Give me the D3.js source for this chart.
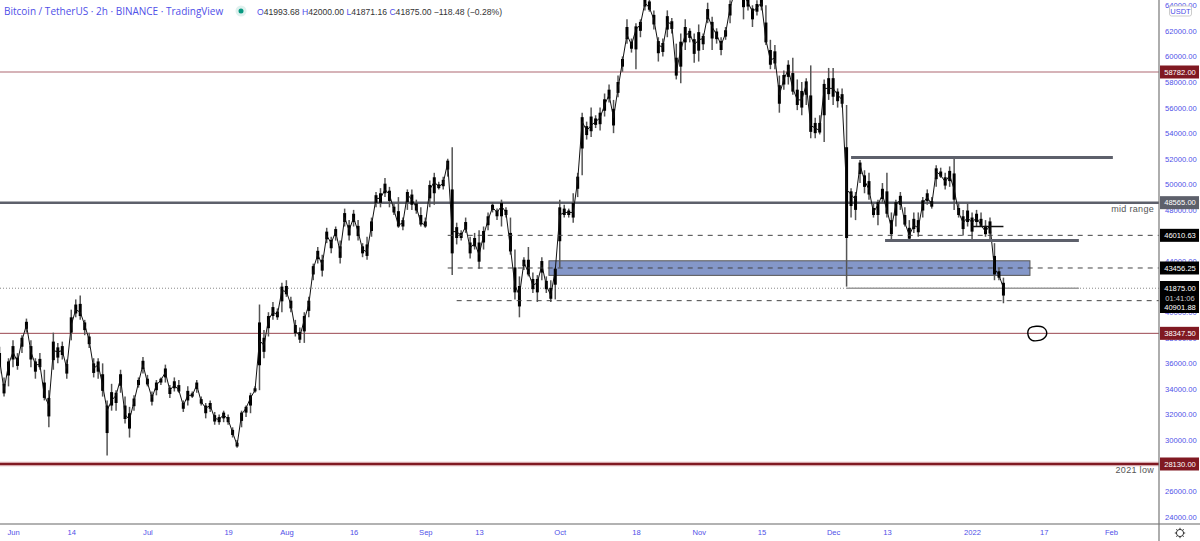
<!DOCTYPE html>
<html>
<head>
  <title>Bitcoin / TetherUS 2h</title>
  <script src="https://d3js.org/d3.v7.min.js"></script>
  <style>
    html, body { margin: 0; padding: 0; background: #fff; overflow: hidden; }
    svg { display: block; font-family: "Liberation Sans", Arial, sans-serif; }
    .axis text { fill: #4f4fe8; font-size: 7.6px; font-family: "Liberation Sans", sans-serif; }
    .tag text { fill: #fff; font-size: 7.6px; font-family: "Liberation Sans", sans-serif; text-anchor: middle; }
  </style>
</head>
<body>
  <svg id="chart" width="1200" height="541"></svg>
  <script>
    // daily high / low / close in thousands of USDT, first day is 29 May 2021
    const highs = [
      37.3,34.9,36.4,
      37.8,36.8,38.2,39.5,37.8,36.4,36.8,35.5,33.9,38.4,37.6,37.7,36.3,40.2,41.0,41.3,39.4,38.4,36.4,36.4,36.0,33.1,34.4,33.9,35.5,33.4,32.6,33.5,34.9,36.5,
      35.1,33.8,34.7,34.9,35.9,34.3,34.9,34.7,33.1,34.2,33.8,34.7,33.4,32.9,33.1,32.2,32.0,32.3,32.0,31.0,30.0,32.3,32.7,33.7,34.2,40.6,38.6,40.0,40.8,40.3,42.3,
      42.5,41.2,39.4,38.8,40.0,41.2,43.8,45.1,44.5,46.6,45.9,46.7,45.6,48.1,47.2,48.0,47.2,45.4,45.9,47.4,49.4,49.7,50.5,49.8,48.5,49.0,47.4,49.6,49.6,48.8,48.2,
      47.4,50.3,50.9,50.2,50.6,52.0,52.9,47.0,46.4,47.4,45.9,46.2,46.4,46.7,47.8,48.6,48.1,48.8,48.2,47.4,44.9,42.8,44.3,45.1,43.1,42.9,44.3,42.8,42.5,43.5,
      48.8,48.4,48.1,49.3,50.9,55.6,54.9,56.0,55.4,56.0,57.1,57.8,56.6,58.5,60.0,62.9,61.4,62.6,62.9,64.8,64.8,63.6,61.5,61.4,63.6,63.0,61.0,61.8,62.9,62.2,61.8,
      62.5,61.8,64.2,63.1,62.2,61.5,62.3,64.4,65.6,66.0,65.6,64.8,64.0,64.4,64.8,64.0,61.3,60.9,58.5,58.9,59.7,59.9,58.2,58.0,58.3,59.3,55.2,55.4,58.2,59.1,
      59.1,57.5,57.5,56.2,49.7,49.4,51.9,51.1,50.9,48.5,48.8,50.1,50.9,47.8,48.8,49.4,48.2,47.2,47.8,47.8,49.0,49.6,49.0,51.5,51.3,50.9,51.4,52.1,48.5,48.0,48.5,
      47.8,48.0,47.8,47.2,47.4,45.4,43.5,42.7
    ];
    const lows = [
      35.2,33.4,34.2,
      35.7,35.5,36.8,38.4,35.7,34.8,35.5,33.1,31.0,35.5,36.0,36.3,34.8,37.8,39.6,39.4,38.2,37.2,34.9,34.8,33.4,28.8,32.3,32.3,33.7,31.3,30.2,32.3,34.1,35.2,
      34.2,32.7,33.5,34.3,34.5,33.3,33.8,33.7,32.2,32.7,33.3,33.7,32.7,31.7,32.2,31.2,31.2,31.4,31.2,30.2,29.4,31.0,31.8,32.1,33.7,33.9,36.4,38.1,39.4,39.4,40.0,
      41.2,40.0,38.1,37.6,37.6,39.6,42.5,43.8,42.8,45.4,44.6,45.6,43.8,46.7,45.6,46.7,45.6,44.3,44.1,45.9,48.2,48.2,49.0,48.2,47.6,46.6,46.4,48.0,48.0,47.7,46.7,
      46.6,48.2,48.4,49.6,49.6,50.6,42.9,45.3,45.6,46.2,44.2,44.9,43.4,44.9,46.4,47.8,47.2,46.7,47.4,44.5,41.0,39.6,43.3,42.8,41.5,40.8,42.5,41.5,40.8,41.0,
      43.5,47.4,47.4,47.0,49.0,50.7,53.5,53.7,54.4,54.2,55.3,56.4,54.0,56.8,58.8,61.0,60.3,59.0,61.5,63.6,63.5,62.1,59.6,60.0,61.5,61.8,58.2,57.9,60.5,61.1,59.5,
      59.6,60.5,62.6,60.5,61.0,60.1,61.3,62.6,64.6,64.8,62.9,63.6,62.3,63.2,63.6,60.9,59.0,59.0,55.6,57.4,57.8,57.0,55.8,55.4,56.2,53.6,53.6,53.9,53.3,56.6,
      56.2,56.0,56.0,42.0,47.4,47.2,50.1,49.3,48.8,47.4,46.8,48.5,47.4,45.6,46.7,48.0,46.7,45.5,46.2,45.9,47.4,48.4,48.1,49.8,50.5,49.6,49.8,48.0,47.4,46.0,46.7,
      45.6,46.7,46.7,45.9,45.5,42.5,42.5,40.7
    ];
    const closes = [
      36.3,33.9,35.9,
      36.9,36.1,37.8,39.0,36.9,35.9,35.9,33.5,32.7,37.0,36.9,37.0,35.6,39.0,40.2,40.0,39.0,37.8,35.6,35.9,34.3,32.3,33.1,33.5,34.8,32.0,31.6,33.0,34.5,35.9,
      34.5,33.3,34.3,34.7,35.3,33.9,34.3,33.9,32.7,33.5,33.5,34.3,33.0,32.5,32.7,31.7,31.6,32.0,31.6,30.6,29.6,32.0,32.5,33.3,33.9,37.8,37.4,39.4,40.0,39.8,41.7,
      41.6,40.6,38.6,38.1,39.4,40.6,43.4,44.5,43.7,46.0,45.4,46.3,44.7,47.4,46.4,47.4,46.3,44.9,44.7,46.8,48.9,48.9,49.6,49.2,48.0,46.8,47.0,49.2,48.8,48.2,47.0,
      46.8,49.6,50.2,49.8,50.1,51.7,46.3,46.3,46.0,46.7,45.0,45.4,44.5,46.0,47.2,48.2,47.8,48.3,47.8,45.0,42.1,41.3,43.9,43.1,42.1,42.3,43.7,42.1,41.3,43.3,
      47.6,47.8,47.8,47.8,50.3,54.9,54.2,54.6,54.9,55.2,56.2,57.0,55.2,57.5,59.6,61.7,60.9,62.1,62.5,64.2,63.8,62.9,60.9,60.7,62.7,62.5,58.8,60.5,61.7,61.8,60.9,
      61.3,61.4,63.2,62.3,61.7,60.9,61.8,63.8,65.0,65.3,64.8,64.2,63.5,63.8,64.2,61.3,59.7,59.9,57.0,58.2,59.0,57.5,56.6,56.6,57.8,54.6,54.4,54.2,57.5,57.5,
      57.5,57.0,56.6,49.6,49.2,48.8,51.5,50.3,49.6,47.8,48.4,49.2,48.0,46.6,48.4,48.8,47.0,46.0,46.8,46.6,48.5,49.0,48.4,51.0,50.7,50.2,50.7,49.6,47.8,47.0,47.4,
      47.0,47.4,46.8,46.3,46.8,43.4,42.9,41.9
    ];

    // right axis and time axis
    const priceTicks = d3.range(24000, 66000, 2000);
    const timeTickDates = [[2021,5,1],[2021,5,14],[2021,6,1],[2021,6,19],[2021,7,1],[2021,7,16],[2021,8,1],[2021,8,13],[2021,9,1],[2021,9,18],[2021,10,1],[2021,10,15],[2021,11,1],[2021,11,13],[2022,0,1],[2022,0,17],[2022,1,1]];
    const timeTickLabels = ["Jun","14","Jul","19","Aug","16","Sep","13","Oct","18","Nov","15","Dec","13","2022","17","Feb"];

    // horizontal levels and hand drawn bits
    const redThin = 58782, midRange = 48565, redMid = 38347.5, redLow = 28130;
    const dashLevels = [46010.63, 43456.25, 40901.88];
    const dashStarts = [[2021,8,6],[2021,8,6],[2021,8,8]];
    const lastPrice = 41875;
    const zoneTop = 44020, zoneBottom = 42880;
    const zoneStart = [2021,8,28,14], zoneEnd = [2022,0,13,22];
    const rangeHigh = 52100, rangeHighStart = [2021,11,5], rangeHighEnd = [2022,1,1,10];
    const rangeLow = 45600, rangeLowStart = [2021,11,12,14], rangeLowEnd = [2022,0,24,20];
    const lastSegStart = [2021,11,4], lastSegEnd = [2022,0,24,20];
    const shortLevel = 46700, shortStart = [2022,0,1], shortEnd = [2022,0,8];
    const scribbleDays = [226.9, 229.8, 230.7, 229.8, 227.4, 226.5];
    const scribblePrices = [38760, 38840, 38370, 37900, 37800, 38200];

    const utc = a => new Date(Date.UTC(a[0], a[1], a[2], a[3] || 0));
    const width = 1200, height = 541, plotRight = 1159, plotBottom = 524;

    const x = d3.scaleUtc().domain([utc([2021,5,1]), utc([2022,1,1])]).range([13, 1111]);
    const y = d3.scaleLinear().domain([redThin, redLow]).range([72, 464]);
    const days = d3.utcDay.range(utc([2021,4,29]), utc([2022,0,9]));

    const svg = d3.select("#chart");
    svg.append("defs").append("clipPath").attr("id", "plot")
      .append("rect").attr("width", plotRight).attr("height", plotBottom);
    const plot = svg.append("g").attr("clip-path", "url(#plot)");

    function hline(from, to, price, color, w, dash) {
      plot.append("line")
        .attr("x1", from).attr("x2", to)
        .attr("y1", y(price)).attr("y2", y(price))
        .attr("stroke", color).attr("stroke-width", w)
        .attr("stroke-dasharray", dash || null);
    }

    // zone goes under the candles
    plot.append("rect")
      .attr("x", x(utc(zoneStart))).attr("width", x(utc(zoneEnd)) - x(utc(zoneStart)))
      .attr("y", y(zoneTop)).attr("height", y(zoneBottom) - y(zoneTop))
      .attr("fill", "#8497c9").attr("stroke", "#555").attr("stroke-width", 1);

    hline(0, plotRight, redThin, "#c99aa0", 1.5);
    hline(0, plotRight, midRange, "#5d606b", 2.5);
    hline(0, plotRight, redMid, "#9a4650", 1);
    hline(0, plotRight, redLow, "#f0d6d8", 5);
    hline(0, plotRight, redLow, "#801922", 2.5);
    hline(0, plotRight, lastPrice, "#888", 1, "1,2");
    hline(x(utc(lastSegStart)), x(utc(lastSegEnd)), lastPrice, "#999", 1.5);

    // wicks
    plot.selectAll(".wick").data(days).enter().append("line")
      .attr("class", "wick")
      .attr("x1", d => x(d)).attr("x2", d => x(d))
      .attr("y1", (d, i) => y(highs[i] * 1000))
      .attr("y2", (d, i) => y(lows[i] * 1000))
      .attr("stroke", "#555").attr("stroke-width", 1.5);

    // thick core of each day, the middle part of its range
    plot.selectAll(".body").data(days).enter().append("line")
      .attr("class", "body")
      .attr("x1", d => x(d)).attr("x2", d => x(d))
      .attr("y1", (d, i) => y((closes[i] + (highs[i] - closes[i]) * 0.5) * 1000))
      .attr("y2", (d, i) => y((closes[i] - (closes[i] - lows[i]) * 0.5) * 1000))
      .attr("stroke", "#000").attr("stroke-width", 3);

    plot.append("path")
      .attr("d", d3.line().x(d => x(d)).y((d, i) => y(closes[i] * 1000))(days))
      .attr("fill", "none").attr("stroke", "#111").attr("stroke-width", 1);

    // dashed levels on top of everything
    dashLevels.forEach((level, i) => {
      hline(x(utc(dashStarts[i])), plotRight, level, "#444", 1, "5,5");
    });
    hline(x(utc(rangeHighStart)), x(utc(rangeHighEnd)), rangeHigh, "#5d606b", 3);
    hline(x(utc(rangeLowStart)), x(utc(rangeLowEnd)), rangeLow, "#5d606b", 3);
    hline(x(utc(shortStart)), x(utc(shortEnd)), shortLevel, "#111", 1.5);

    // scribble round the 38k level
    plot.append("path")
      .attr("d", d3.line()
        .x(d => x(d3.utcHour.offset(utc([2021,5,1]), d.day * 24)))
        .y(d => y(d.price))
        .curve(d3.curveCatmullRomClosed)(scribbleDays.map((day, i) => ({ day: day, price: scribblePrices[i] }))))
      .attr("fill", "none").attr("stroke", "#000").attr("stroke-width", 1.4);

    plot.append("text").attr("x", 1154).attr("y", 212).attr("text-anchor", "end")
      .attr("fill", "#555").attr("font-size", 9).attr("letter-spacing", 0.3).text("mid range");
    plot.append("text").attr("x", 1154).attr("y", 473).attr("text-anchor", "end")
      .attr("fill", "#555").attr("font-size", 9).attr("letter-spacing", 0.3).text("2021 low");

    // axes
    svg.append("g").attr("class", "axis")
      .attr("transform", `translate(${plotRight},0)`)
      .call(d3.axisRight(y).tickValues(priceTicks).tickSize(0).tickPadding(6).tickFormat(d3.format(".2f")))
      .call(g => g.select(".domain").remove());
    svg.append("g").attr("class", "axis")
      .attr("transform", `translate(0,${plotBottom})`)
      .call(d3.axisBottom(x).tickValues(timeTickDates.map(utc)).tickSize(0).tickPadding(6)
        .tickFormat((d, i) => timeTickLabels[i]))
      .call(g => g.select(".domain").remove());

    svg.append("line").attr("x1", 0).attr("x2", width).attr("y1", plotBottom).attr("y2", plotBottom)
      .attr("stroke", "#666").attr("stroke-width", 1.2);
    svg.append("line").attr("x1", plotRight).attr("x2", plotRight).attr("y1", 0).attr("y2", height)
      .attr("stroke", "#777").attr("stroke-width", 1.2);

    // price tags
    const tag = (price, color) => {
      const g = svg.append("g").attr("class", "tag");
      g.append("rect").attr("x", plotRight + 1).attr("y", y(price) - 6.5)
        .attr("width", 39).attr("height", 13).attr("fill", color);
      g.append("text").attr("x", 1180).attr("y", y(price) + 2.8).text(d3.format(".2f")(price));
    };
    tag(redThin, "#801922");
    tag(midRange, "#5d606b");
    tag(dashLevels[0], "#000");
    tag(dashLevels[1], "#000");
    tag(redMid, "#801922");
    tag(redLow, "#801922");

    const stack = svg.append("g").attr("class", "tag");
    stack.append("rect").attr("x", plotRight + 1).attr("y", 281).attr("width", 39).attr("height", 32).attr("fill", "#000");
    stack.append("text").attr("x", 1180).attr("y", 291).text(d3.format(".2f")(lastPrice));
    stack.append("text").attr("x", 1180).attr("y", 300.5).attr("style", "fill:#ccc").text("01:41:06");
    stack.append("text").attr("x", 1180).attr("y", 310).text(d3.format(".2f")(dashLevels[2]));

    // USDT box
    svg.append("rect").attr("x", 1169.5).attr("y", 6).attr("width", 22).attr("height", 10).attr("rx", 2)
      .attr("fill", "#fff").attr("stroke", "#ccc");
    svg.append("text").attr("x", 1180.5).attr("y", 13.8).attr("text-anchor", "middle")
      .attr("fill", "#4f4fe8").attr("font-size", 7.5).text("USDT");

    // settings gear
    const gear = svg.append("g").attr("transform", "translate(1180,533)").attr("stroke", "#333").attr("fill", "none");
    gear.append("circle").attr("r", 3.6).attr("stroke-width", 1);
    d3.range(8).forEach(i => {
      const a = i * Math.PI / 4;
      gear.append("line").attr("x1", 3.6 * Math.cos(a)).attr("y1", 3.6 * Math.sin(a))
        .attr("x2", 5.2 * Math.cos(a)).attr("y2", 5.2 * Math.sin(a)).attr("stroke-width", 1);
    });

    // header
    const head = svg.append("g");
    head.append("text").attr("x", 4).attr("y", 15).attr("fill", "#4f4fe8").attr("font-size", 10)
      .attr("font-family", "Open Sans").text("Bitcoin / TetherUS · 2h · BINANCE · TradingView");
    head.append("circle").attr("cx", 241).attr("cy", 11).attr("r", 5.5).attr("fill", "#dff1ee");
    head.append("circle").attr("cx", 241).attr("cy", 11).attr("r", 2.5).attr("fill", "#089981");
    const ohlc = head.append("text").attr("x", 257).attr("y", 14.5).attr("font-size", 8.6);
    [["O", "41993.68"], ["H", "42000.00"], ["L", "41871.16"], ["C", "41875.00"]].forEach(p => {
      ohlc.append("tspan").attr("fill", "#4f4fe8").text(p[0]);
      ohlc.append("tspan").attr("fill", "#333").text(p[1] + " ");
    });
    ohlc.append("tspan").attr("fill", "#333").text("−118.48 (−0.28%)");
  </script>
</body>
</html>
